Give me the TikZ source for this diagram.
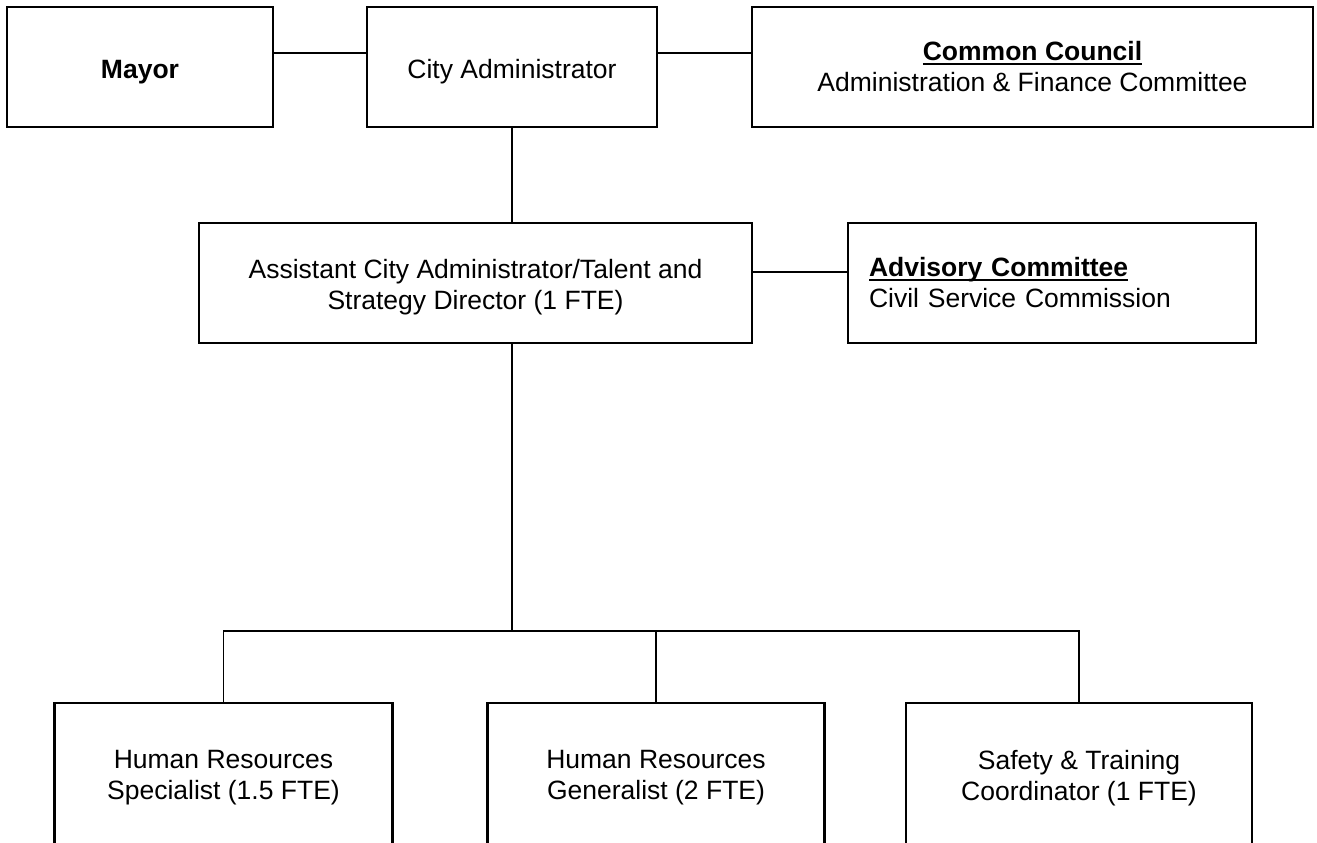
\documentclass[tikz,border=0pt]{standalone}
\usepackage{fontspec}
\setmainfont{Liberation Sans}
\newcommand{\thickul}[1]{\setbox0=\hbox{#1}\rlap{\rule[-4pt]{\wd0}{1.8pt}}\box0}
\begin{document}
\begin{tikzpicture}[x=1pt,y=-1pt,
  box/.style={draw=black,line width=2.2pt,rectangle,inner sep=0pt,align=center,
    font=\fontsize{26.5}{31}\selectfont},
  oneline/.style={text height=22pt,text depth=0pt},
  conn/.style={draw=black,line width=1.8pt}]
\useasboundingbox (0,0) rectangle (1317,843);
\clip (0,0) rectangle (1317,843);
\fill[white] (0,0) rectangle (1317,843);
% top row
\node[box,oneline,minimum width=266pt,minimum height=120pt] (mayor) at (140,67) {\textbf{Mayor}};
\node[box,oneline,minimum width=290pt,minimum height=120pt] (ca) at (512,67) {City Administrator};
\node[box,minimum width=561pt,minimum height=120pt] (council) at (1032.5,67)
  {\thickul{\textbf{Common Council}}\\Administration \& Finance Committee};
% second row
\node[box,minimum width=553pt,minimum height=120pt] (asst) at (475.5,283) {};
\node[font=\fontsize{26.5}{31}\selectfont,align=center,inner sep=0pt] (asstxt) at (475.5,287)
  {Assistant City Administrator/Talent and\\Strategy Director (1 FTE)};
\node[box,text width=366pt,inner xsep=21pt,minimum height=120pt,align=left] (adv) at (1052,283)
  {\thickul{\textbf{Advisory Committee}}\\Civil Service Commission};
% bottom row
\node[box,minimum width=338pt,minimum height=150pt] (spec) at (223.5,778)
  {Human Resources\\Specialist (1.5 FTE)};
\node[box,minimum width=337pt,minimum height=150pt] (gen) at (656,778)
  {Human Resources\\Generalist (2 FTE)};
\node[box,minimum width=346pt,minimum height=150pt] (safety) at (1079,778)
  {Safety \& Training\\Coordinator (1 FTE)};
% connectors
\draw[conn] ([yshift=14pt]mayor.east) -- ([yshift=14pt]ca.west);
\draw[conn] ([yshift=14pt]ca.east) -- ([yshift=14pt]council.west);
\draw[conn] (ca.south) -- (ca.south |- asst.north);
\draw[conn] ([yshift=11pt]asst.east) -- ([yshift=11pt]adv.west);
\coordinate (bus) at (512,631);
\draw[conn] (bus |- asst.south) -- (bus);
\draw[conn] (spec.north) |- (bus);
\draw[conn] (safety.north) |- (bus);
\draw[conn] (gen.north) -- (gen.north |- bus);
\end{tikzpicture}
\end{document}
